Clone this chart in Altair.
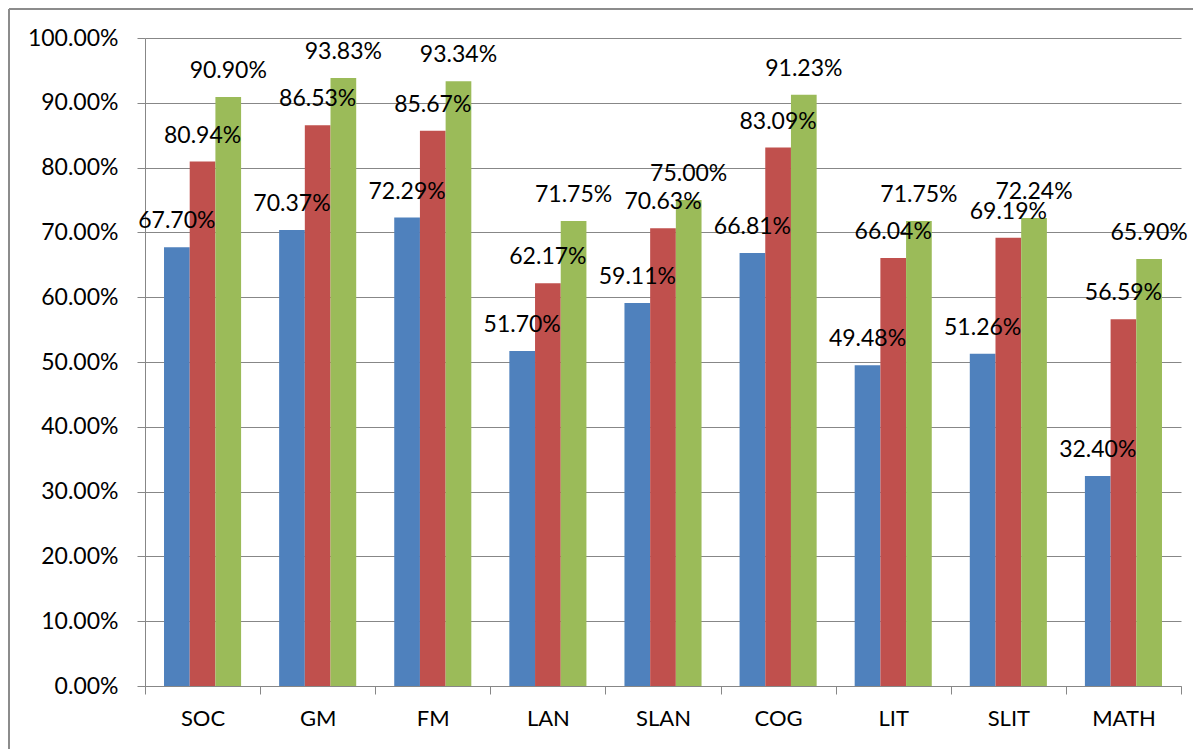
import altair as alt
import pandas as pd

categories = ["SOC", "GM", "FM", "LAN", "SLAN", "COG", "LIT", "SLIT", "MATH"]
series_names = ["Series1", "Series2", "Series3"]
series1 = [0.6770, 0.7037, 0.7229, 0.5170, 0.5911, 0.6681, 0.4948, 0.5126, 0.3240]
series2 = [0.8094, 0.8653, 0.8567, 0.6217, 0.7063, 0.8309, 0.6604, 0.6919, 0.5659]
series3 = [0.9090, 0.9383, 0.9334, 0.7175, 0.7500, 0.9123, 0.7175, 0.7224, 0.6590]
colors = ["#4F81BD", "#C0504D", "#9BBB59"]
y_ticks = [i / 10 for i in range(11)]

rows = []
for name, vals in zip(series_names, [series1, series2, series3]):
    for c, v in zip(categories, vals):
        rows.append({"cat": c, "series": name, "value": v})
df = pd.DataFrame(rows)

W, H = 1036, 648
grid = "#878787"

x_enc = alt.X(
    "cat:N", sort=categories,
    scale=alt.Scale(paddingInner=0, paddingOuter=0),
    axis=alt.Axis(title=None, labelAngle=0, tickBand="extent",
                  ticks=True, tickSize=8, tickColor=grid, domainColor=grid,
                  labelPadding=14, labelFontSize=22, labelColor="black",
                  grid=False, labelBaseline="top"),
)
xoff = alt.XOffset("series:N", sort=series_names,
                   scale=alt.Scale(paddingOuter=0.74, paddingInner=0))
y_enc = alt.Y(
    "value:Q", scale=alt.Scale(domain=[0, 1], nice=False),
    axis=alt.Axis(title=None, values=y_ticks, format=".2%", grid=True,
                  gridColor=grid, tickColor=grid, domainColor=grid, tickSize=8,
                  labelPadding=19, labelFontSize=23, labelColor="black"),
)
color = alt.Color("series:N", sort=series_names,
                  scale=alt.Scale(domain=series_names, range=colors), legend=None)

base = alt.Chart(df)

bars = base.mark_bar().encode(x=x_enc, xOffset=xoff, y=y_enc, color=color)

labels = base.mark_text(fontSize=23, baseline="middle", dy=-26, color="black").encode(
    x=alt.X("cat:N", sort=categories), xOffset=xoff, y="value:Q",
    text=alt.Text("value:Q", format=".2%"),
)

frame_left = base.mark_rule(color="#8c8c8c", strokeWidth=1.5).encode(
    x=alt.value(-136), y=alt.value(-29), y2=alt.value(H + 80))
frame_top = base.mark_rule(color="#8c8c8c", strokeWidth=1.5).encode(
    x=alt.value(-136), x2=alt.value(W + 60), y=alt.value(-29))

chart = alt.layer(bars, labels, frame_left, frame_top).properties(
    width=W, height=H,
    autosize=alt.AutoSizeParams(type="none"),
    padding={"left": 137, "top": 30, "right": 12, "bottom": 63},
).configure(font="Lato").configure_view(stroke=None)

chart.save("out.html", embed_options={"renderer": "svg", "actions": False})
